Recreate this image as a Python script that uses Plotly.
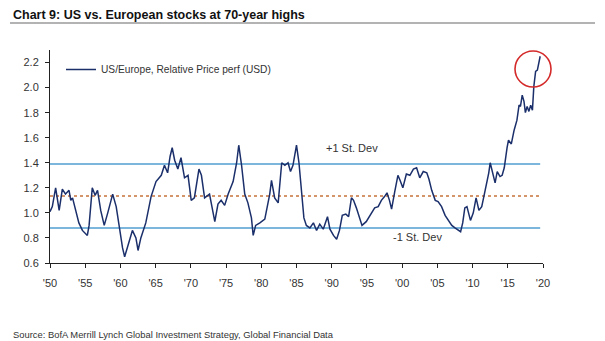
import plotly.graph_objects as go

years = [1950.0, 1950.33, 1950.8, 1951.05, 1951.3, 1951.75, 1952.2, 1952.7, 1952.95, 1953.2,
         1953.7, 1954.1, 1954.6, 1955.3, 1955.55, 1956.0, 1956.4, 1956.75, 1957.2, 1957.7,
         1958.2, 1958.9, 1959.4, 1959.8, 1960.3, 1960.6, 1961.0, 1961.7, 1962.2, 1962.5,
         1962.9, 1963.6, 1964.35, 1965.05, 1965.8, 1966.25, 1966.7, 1967.05, 1967.35, 1967.7,
         1968.15, 1968.6, 1969.1, 1969.6, 1970.05, 1970.5, 1971.15, 1971.5, 1971.95, 1972.65,
         1973.4, 1973.85, 1974.3, 1974.8, 1975.3, 1976.0, 1976.5, 1976.8, 1977.2, 1977.65,
         1978.1, 1978.6, 1978.85, 1979.2, 1979.8, 1980.5, 1981.2, 1981.45, 1981.9, 1982.4,
         1982.9, 1983.35, 1983.8, 1984.15, 1984.5, 1985.0, 1985.35, 1985.7, 1986.05, 1986.4,
         1986.9, 1987.4, 1987.85, 1988.3, 1988.8, 1989.4, 1989.75, 1990.25, 1990.7, 1991.1,
         1991.5, 1992.0, 1992.4, 1992.8, 1993.1, 1993.5, 1994.0, 1994.3, 1994.9, 1995.4,
         1996.1, 1996.6, 1997.05, 1997.5, 1997.85, 1998.2, 1998.5, 1998.95, 1999.4, 1999.7,
         2000.1, 2000.6, 2001.1, 2001.6, 2002.05, 2002.5, 2003.0, 2003.5, 2003.8, 2004.2,
         2004.7, 2005.1, 2005.6, 2006.1, 2006.6, 2007.05, 2007.5, 2008.0, 2008.3, 2008.6,
         2008.9, 2009.2, 2009.7, 2010.1, 2010.5, 2010.9, 2011.3, 2011.6, 2011.95, 2012.3,
         2012.5, 2012.9, 2013.2, 2013.5, 2013.9, 2014.2, 2014.5, 2014.9, 2015.1, 2015.5,
         2015.9, 2016.3, 2016.6, 2016.8, 2017.05, 2017.3, 2017.5, 2017.75, 2018.0, 2018.25,
         2018.5, 2018.7, 2018.95, 2019.2, 2019.45, 2019.6]

relative_perf = [1.01, 1.05, 1.20, 1.12, 1.02, 1.19, 1.15, 1.18, 1.10, 1.12,
                 1.00, 0.92, 0.86, 0.82, 0.90, 1.20, 1.14, 1.18, 1.02, 0.90,
                 1.00, 1.15, 1.05, 0.90, 0.72, 0.65, 0.73, 0.86, 0.80, 0.70,
                 0.80, 0.92, 1.13, 1.25, 1.30, 1.38, 1.32, 1.45, 1.52, 1.42,
                 1.35, 1.44, 1.28, 1.30, 1.10, 1.12, 1.35, 1.30, 1.12, 1.15,
                 0.93, 1.07, 1.10, 1.06, 1.15, 1.25, 1.40, 1.54, 1.38, 1.15,
                 1.08, 0.96, 0.82, 0.90, 0.92, 0.95, 1.15, 1.26, 1.12, 1.08,
                 1.40, 1.38, 1.40, 1.33, 1.38, 1.54, 1.40, 1.15, 0.96, 0.90,
                 0.88, 0.92, 0.86, 0.91, 0.87, 0.97, 0.87, 0.82, 0.79, 0.86,
                 0.98, 0.99, 0.97, 1.12, 1.10, 1.04, 0.94, 0.90, 0.93, 0.98,
                 1.04, 1.05, 1.10, 1.13, 1.16, 1.10, 1.03, 1.17, 1.30, 1.26,
                 1.20, 1.31, 1.30, 1.35, 1.36, 1.28, 1.33, 1.32, 1.27, 1.18,
                 1.10, 1.09, 1.05, 0.98, 0.94, 0.90, 0.88, 0.86, 0.85, 0.92,
                 1.04, 1.05, 0.94, 1.00, 1.12, 1.02, 1.05, 1.13, 1.22, 1.32,
                 1.40, 1.30, 1.24, 1.33, 1.29, 1.30, 1.36, 1.52, 1.58, 1.55,
                 1.66, 1.74, 1.86, 1.85, 1.94, 1.89, 1.80, 1.85, 1.81, 1.86,
                 1.82, 2.01, 2.13, 2.14, 2.21, 2.25]

band_years = [1950.0, 2019.6]
mean_level = 1.135
plus_one_sd = 1.39
minus_one_sd = 0.88

x_tickvals = list(range(1950, 2021, 5))
x_ticktext = ["'50", "'55", "'60", "'65", "'70", "'75", "'80", "'85", "'90", "'95",
              "'00", "'05", "'10", "'15", "'20"]
y_tickvals = [0.6, 0.8, 1.0, 1.2, 1.4, 1.6, 1.8, 2.0, 2.2]

FONT = "Liberation Sans, Arial, sans-serif"
L, R, T, B = 50, 62, 50, 78
W, H = 605, 341
PW, PH = W - L - R, H - T - B


def px(x):
    return (x - L) / PW


def py(y):
    return (H - B - y) / PH


fig = go.Figure()

fig.add_trace(go.Scatter(x=band_years, y=[plus_one_sd] * 2, mode="lines",
                         line=dict(color="#7DB6DC", width=2), showlegend=False, hoverinfo="skip"))
fig.add_trace(go.Scatter(x=band_years, y=[minus_one_sd] * 2, mode="lines",
                         line=dict(color="#7DB6DC", width=2), showlegend=False, hoverinfo="skip"))
fig.add_trace(go.Scatter(x=band_years, y=[mean_level] * 2, mode="lines",
                         line=dict(color="#C8733A", width=1.5, dash="dot"), showlegend=False,
                         hoverinfo="skip"))
fig.add_trace(go.Scatter(x=years, y=relative_perf, mode="lines",
                         name="US/Europe, Relative Price perf (USD)",
                         line=dict(color="#1B2F6B", width=1.5)))

# red highlight circle (paper coords so it is not clipped by the plot area)
fig.add_shape(type="circle", xref="paper", yref="paper",
              x0=px(515), x1=px(551), y0=py(87), y1=py(51),
              line=dict(color="#D42A2A", width=1.6))

fig.add_shape(type="line", xref="paper", yref="paper", x0=px(10), x1=px(595),
              y0=py(23), y1=py(23), line=dict(color="#9A9A9A", width=1.5))

fig.add_annotation(text="<b>Chart 9: US vs. European stocks at 70-year highs</b>",
                   xref="paper", yref="paper", x=px(11), y=py(15), xanchor="left",
                   yanchor="middle", showarrow=False, font=dict(family=FONT, size=12.5, color="#111111"))
fig.add_annotation(text="Source: BofA Merrill Lynch Global Investment Strategy, Global Financial Data",
                   xref="paper", yref="paper", x=px(11), y=py(334), xanchor="left",
                   yanchor="middle", showarrow=False, font=dict(family=FONT, size=9.4, color="#333333"))
fig.add_annotation(text="+1 St. Dev", xref="paper", yref="paper", x=px(352), y=py(148),
                   xanchor="center", yanchor="middle", showarrow=False,
                   font=dict(family=FONT, size=11, color="#333333"))
fig.add_annotation(text="-1 St. Dev", xref="paper", yref="paper", x=px(417), y=py(237),
                   xanchor="center", yanchor="middle", showarrow=False,
                   font=dict(family=FONT, size=11, color="#333333"))

fig.update_layout(
    width=W, height=H,
    margin=dict(l=L, r=R, t=T, b=B),
    paper_bgcolor="white", plot_bgcolor="white",
    font=dict(family=FONT, size=11, color="#333333"),
    legend=dict(x=px(61), y=py(55), xanchor="left", yanchor="top",
                bgcolor="rgba(0,0,0,0)", font=dict(family=FONT, size=10.2, color="#333333"),
                itemwidth=30),
    xaxis=dict(range=[1950, 2020], tickvals=x_tickvals, ticktext=x_ticktext,
               showgrid=False, zeroline=False, showline=True, linecolor="#222222",
               linewidth=1, ticks="outside", ticklen=4, tickcolor="#222222",
               ticklabelstandoff=6,
               tickfont=dict(family=FONT, size=11, color="#333333")),
    yaxis=dict(range=[0.6, 2.3], tickvals=y_tickvals, tickformat=".1f",
               showgrid=False, zeroline=False, showline=True, linecolor="#222222",
               linewidth=1, ticks="outside", ticklen=4, tickcolor="#222222",
               ticklabelstandoff=4,
               tickfont=dict(family=FONT, size=11, color="#333333")),
)

fig.write_html("out.html")
